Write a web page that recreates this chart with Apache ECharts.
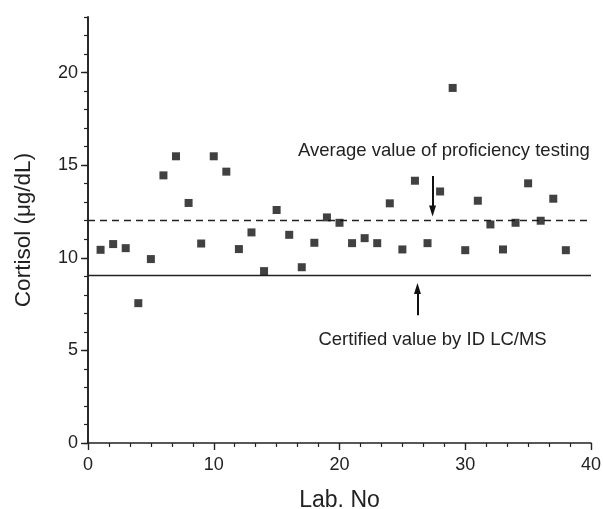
<!DOCTYPE html>
<html>
<head>
<meta charset="utf-8">
<script src="https://cdn.jsdelivr.net/npm/echarts@6/dist/echarts.min.js"></script>
<style>html,body{margin:0;padding:0;background:#fff;}#c{width:603px;height:509px;}</style>
</head>
<body>
<div id="c"></div>
<script>
// Data
var labNo = [1,2,3,4,5,6,7,8,9,10,11,12,13,14,15,16,17,18,19,20,21,22,23,24,25,26,27,28,29,30,31,32,33,34,35,36,37,38];
var cortisol = [10.43,10.74,10.52,7.55,9.93,14.45,15.48,12.96,10.77,15.48,14.65,10.47,11.37,9.28,12.58,11.24,9.49,10.81,12.18,11.89,10.79,11.06,10.79,12.94,10.45,14.16,10.79,13.58,19.17,10.41,13.08,11.8,10.45,11.89,14.02,12.0,13.19,10.41];
var averageValue = 12.0;
var certifiedValue = 9.07;
var yMajorTicks = [0,5,10,15,20];
var xName = 'Lab. No';
var yName = 'Cortisol (μg/dL)';
var avgText = 'Average value of proficiency testing';
var certText = 'Certified value by ID LC/MS';
// annotation anchors (data units)
var avgArrow = [[27.4, 14.41], [27.4, 12.52]];
var certArrow = [[26.2, 6.9], [26.2, 8.34]];
var avgLabelAt = [28.3, 15.76];
var certLabelAt = [27.4, 5.58];

var FONT = "'Liberation Sans', Arial, sans-serif";
var INK = '#222';

var points = labNo.map(function (x, i) { return [x, cortisol[i]]; });

var chart = echarts.init(document.getElementById('c'));
chart.setOption({
  animation: false,
  backgroundColor: '#fff',
  grid: { left: 88, right: 12, top: 17, bottom: 66, containLabel: false, outerBoundsMode: 'none' },
  xAxis: {
    type: 'value', min: 0, max: 40, interval: 10,
    name: xName, nameLocation: 'middle', nameGap: 46,
    nameTextStyle: { fontFamily: FONT, fontSize: 23, color: INK },
    axisLine: { show: true, onZero: false, lineStyle: { color: INK, width: 1.6 } },
    axisTick: { show: true, length: 7, lineStyle: { color: INK, width: 1.4 } },
    minorTick: { show: true, splitNumber: 6, length: 4, lineStyle: { color: INK, width: 1.2 } },
    axisLabel: { fontFamily: FONT, fontSize: 18, color: INK, margin: 13 },
    splitLine: { show: false }
  },
  yAxis: [{
    type: 'value', min: 0, max: 23, interval: 1,
    name: yName, nameLocation: 'middle', nameGap: 53,
    nameTextStyle: { fontFamily: FONT, fontSize: 22.5, color: INK },
    axisLine: { show: true, onZero: false, lineStyle: { color: INK, width: 1.6 } },
    axisTick: { show: true, length: 4, lineStyle: { color: INK, width: 1.2 } },
    axisLabel: { show: false },
    splitLine: { show: false }
  }, {
    type: 'value', min: 0, max: 23, position: 'left',
    axisLine: { show: true, onZero: false, lineStyle: { color: INK, width: 1.6 } },
    axisTick: { show: true, length: 7, customValues: yMajorTicks, lineStyle: { color: INK, width: 1.4 } },
    axisLabel: { show: true, customValues: yMajorTicks, fontFamily: FONT, fontSize: 18, color: INK, margin: 10 },
    splitLine: { show: false }
  }],
  series: [{
    type: 'scatter',
    data: points,
    symbol: 'rect',
    symbolSize: 8,
    itemStyle: { color: '#111' },
    z: 5
  }, {
    type: 'line',
    data: [],
    markLine: {
      silent: true, symbol: 'none', animation: false,
      label: { show: false },
      data: [
        { yAxis: averageValue, lineStyle: { type: [7, 5], color: INK, width: 1.4 } },
        { yAxis: certifiedValue, lineStyle: { type: 'solid', color: INK, width: 1.4 } }
      ]
    }
  }, {
    type: 'line',
    data: [],
    markLine: {
      silent: true, animation: false,
      symbol: ['none', 'triangle'], symbolSize: [7, 11],
      label: { show: false },
      lineStyle: { color: '#111', width: 2, type: 'solid' },
      data: [
        [{ coord: avgArrow[0] }, { coord: avgArrow[1] }],
        [{ coord: certArrow[0] }, { coord: certArrow[1] }]
      ]
    },
    markPoint: {
      silent: true, animation: false, symbol: 'circle', symbolSize: 0,
      label: { show: true, position: 'inside', fontFamily: FONT, fontSize: 18.5, color: INK },
      data: [
        { coord: avgLabelAt, value: avgText, label: { formatter: avgText } },
        { coord: certLabelAt, value: certText, label: { formatter: certText } }
      ]
    }
  }]
});
</script>
</body>
</html>
